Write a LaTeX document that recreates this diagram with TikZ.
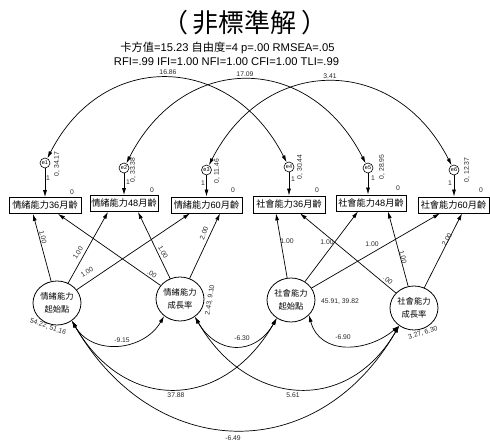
\documentclass[tikz,border=0pt]{standalone}
\usepackage{fontspec}
\setmainfont{Liberation Sans}
\newfontfamily\cjk{Noto Sans CJK TC}
\usetikzlibrary{arrows.meta,shapes.geometric}
\begin{document}
\begin{tikzpicture}[x=1pt,y=1pt,
  line width=0.7pt,
  tip/.style={-{Latex[length=7pt,width=4pt]}},
  dtip/.style={{Latex[length=7pt,width=4pt]}-{Latex[length=7pt,width=4pt]}},
  obs/.style={draw, line width=0.8pt, minimum width=70pt, minimum height=16pt, inner sep=1pt, font=\fontsize{9.2}{11}\selectfont},
  lat/.style={draw, ellipse, line width=0.8pt, minimum width=48pt, minimum height=44pt, inner sep=0pt, align=center, font=\cjk\fontsize{8.3}{13}\selectfont},
  err/.style={draw, circle, line width=0.6pt, minimum size=10pt, inner sep=0pt, font=\fontsize{5.5}{5.5}\selectfont},
  lab/.style={font=\fontsize{6.8}{7}\selectfont, inner sep=0pt, text=black!85},
]
\useasboundingbox (0,0) rectangle (490,-441);

% title and fit
\node[font=\cjk\fontsize{26}{26}\selectfont] (title) at (245,-23) {（\hspace{5pt}非標準解\hspace{5pt}）};
\node[font=\fontsize{11.2}{12}\selectfont] (fit1) at (227.5,-48) {{\cjk 卡方值}=15.23 {\cjk 自由度}=4 p=.00 RMSEA=.05};
\node[font=\fontsize{11.2}{12}\selectfont] (fit2) at (226.5,-62) {RFI=.99 IFI=1.00 NFI=1.00 CFI=1.00 TLI=.99};

% observed
\node[obs, minimum width=72pt] (b1) at (45,-205.5) {{\cjk 情緒能力}36{\cjk 月齡}};
\node[obs, minimum width=68pt] (b2) at (124,-203.5) {{\cjk 情緒能力}48{\cjk 月齡}};
\node[obs, minimum width=71pt] (b3) at (206.5,-205) {{\cjk 情緒能力}60{\cjk 月齡}};
\node[obs, minimum width=72pt, minimum height=17pt] (b4) at (289,-204.5) {{\cjk 社會能力}36{\cjk 月齡}};
\node[obs, minimum width=70pt] (b5) at (371,-203) {{\cjk 社會能力}48{\cjk 月齡}};
\node[obs, minimum width=71pt] (b6) at (453.5,-205) {{\cjk 社會能力}60{\cjk 月齡}};

% errors
\node[err] (e1) at (45,-163) {e1};
\node[err] (e2) at (124,-168) {e2};
\node[err] (e3) at (206.5,-170) {e3};
\node[err] (e4) at (289,-167) {e4};
\node[err] (e5) at (368,-168) {e5};
\node[err] (e6) at (454,-170) {e6};

% latents
\node[lat] (LEI) at (57,-303) {情緒能力\\起始點};
\node[lat] (LES) at (180,-299) {情緒能力\\成長率};
\node[lat] (SOI) at (291,-300) {社會能力\\起始點};
\node[lat] (SOS) at (414,-308) {社會能力\\成長率};

% error arrows
\foreach \i in {1,...,6}{\draw[tip] (e\i) -- (e\i |- b\i.north);}
\node[lab] (o1) at (48,-178) {1};
\node[lab] (o2) at (128,-182) {1};
\node[lab] (o3) at (203,-183) {1};
\node[lab] (o4) at (293,-179) {1};
\node[lab] (o5) at (373,-178) {1};
\node[lab] (o6) at (450,-183) {1};
\node[lab,rotate=90] (v1) at (57,-164) {0, 34.17};
\node[lab,rotate=90] (v2) at (133,-170) {0, 33.38};
\node[lab,rotate=90] (v3) at (217,-171) {0, 11.46};
\node[lab,rotate=90] (v4) at (300,-167) {0, 30.44};
\node[lab,rotate=90] (v5) at (382,-167) {0, 28.95};
\node[lab,rotate=90] (v6) at (467,-170) {0, 12.37};
\node[lab] (z1) at (72,-192) {0};
\node[lab] (z2) at (152,-190) {0};
\node[lab] (z3) at (233,-190) {0};
\node[lab] (z4) at (317,-190) {0};
\node[lab] (z5) at (398,-188) {0};
\node[lab] (z6) at (481,-190) {0};

% error covariances
\draw[dtip] (e1) to[out=63,in=117,distance=123] (e4);
\draw[dtip] (e2) to[out=63,in=117,distance=125] (e5);
\draw[dtip] (e3) to[out=63,in=117,distance=125] (e6);
\node[lab] (c14) at (168,-72) {16.86};
\node[lab] (c25) at (245,-74) {17.09};
\node[lab] (c36) at (330,-76) {3.41};

% loadings
\draw[tip] (LEI) -- ([xshift=-12pt]b1.south);
\draw[tip] (LEI) -- ([xshift=-16pt]b2.south);
\draw[tip] (LEI) -- ([xshift=-16.5pt]b3.south);
\draw[tip] (LES) -- ([xshift=13pt]b1.south);
\draw[tip] (LES) -- ([xshift=14pt]b2.south);
\draw[tip] (LES) -- ([xshift=13.5pt]b3.south);
\draw[tip] (SOI) -- ([xshift=-13pt]b4.south);
\draw[tip] (SOI) -- ([xshift=-13pt]b5.south);
\draw[tip] (SOI) -- ([xshift=-13.5pt]b6.south);
\draw[tip] (SOS) -- ([xshift=11pt]b4.south);
\draw[tip] (SOS) -- ([xshift=17pt]b5.south);
\draw[tip] (SOS) -- ([xshift=8.5pt]b6.south);

\node[lab,rotate=-77] (p11) at (43,-237) {1.00};
\node[lab,rotate=58] (p12) at (78,-253) {1.00};
\node[lab,rotate=32] (p13) at (87,-272) {1.00};
\node[lab,rotate=-32] (p21) at (152,-274) {.00};
\node[lab,rotate=-62] (p22) at (163,-252) {1.00};
\node[lab,rotate=70] (p23) at (204,-233) {2.00};
\node[lab] (q11) at (287,-241) {1.00};
\node[lab] (q12) at (327,-242) {1.00};
\node[lab] (q13) at (372,-244) {1.00};
\node[lab,rotate=-39] (q21) at (388,-280) {.00};
\node[lab,rotate=-76] (q22) at (403,-257) {1.00};
\node[lab,rotate=60] (q23) at (447,-240) {2.00};

% latent variances
\node[lab,rotate=-20] (vLEI) at (48,-327) {54.22, 51.16};
\node[lab,rotate=80] (vLES) at (210,-300) {2.43, 9.10};
\node[lab] (vSOI) at (340,-302) {45.91, 39.82};
\node[lab,rotate=18] (vSOS) at (423,-333) {3.27, 6.30};

% latent covariances
\draw[dtip] (LEI.-50) to[out=-60,in=-120,distance=41] (LES.-133);
\draw[dtip] (LES.-50) to[out=-60,in=-120,distance=44] (SOI.-128);
\draw[dtip] (SOI.-40) to[out=-75,in=-140,distance=42] (SOS.-130);
\draw[dtip] (LEI.-50) to[out=-60,in=-120,distance=107] (SOI.-128);
\draw[dtip] (LES.-50) to[out=-60,in=-120,distance=104] (SOS.-130);
\draw[dtip] (LEI.-50) to[out=-60,in=-120,distance=164] (SOS.-130);
\node[lab] (k1) at (122,-340) {-9.15};
\node[lab] (k2) at (242,-338) {-6.30};
\node[lab] (k3) at (343,-337) {-6.90};
\node[lab] (k4) at (176,-395) {37.88};
\node[lab] (k5) at (293,-395) {5.61};
\node[lab] (k6) at (233,-438) {-6.49};
\end{tikzpicture}
\end{document}
